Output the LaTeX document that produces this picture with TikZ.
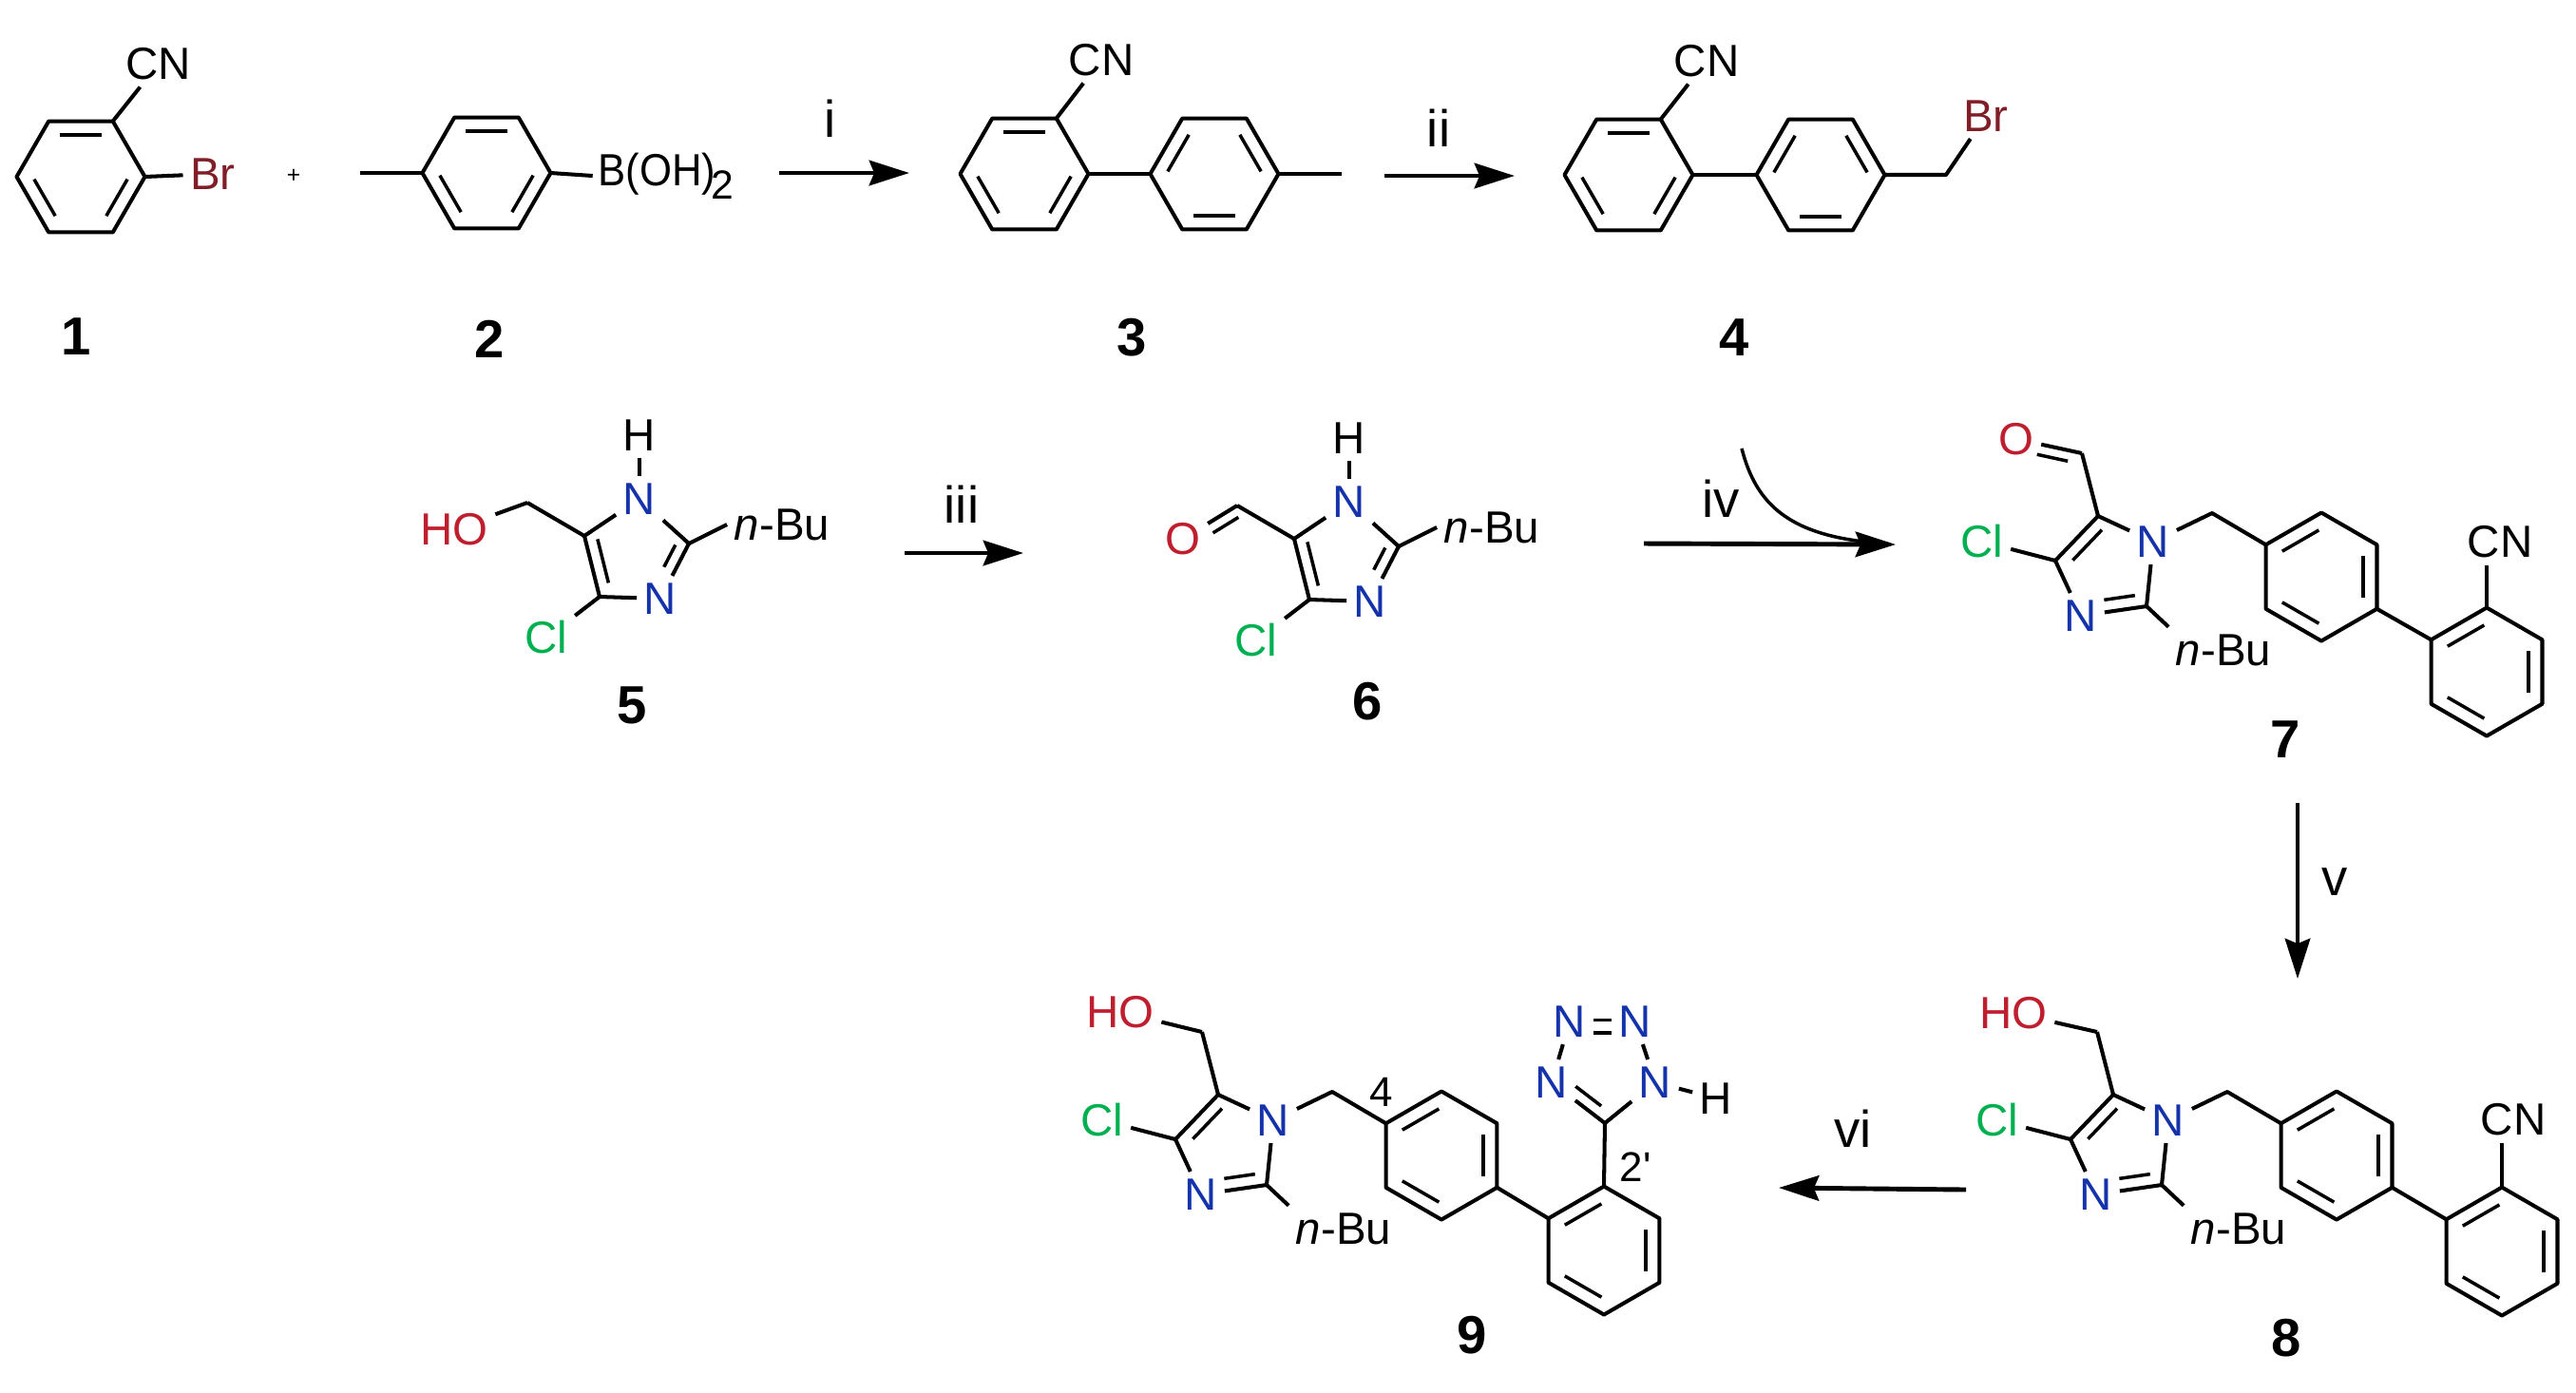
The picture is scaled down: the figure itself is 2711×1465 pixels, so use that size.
\documentclass[tikz,border=0pt]{standalone}
\usepackage{fontspec}
\setmainfont{Liberation Sans}
\newfontfamily\numfam{Liberation Sans}
\usetikzlibrary{calc}
\usetikzlibrary{arrows.meta}
\usetikzlibrary{positioning}

\definecolor{atomred}{RGB}{190,30,45}
\definecolor{atomblue}{RGB}{20,50,170}
\definecolor{atomgreen}{RGB}{0,176,80}
\definecolor{atombrown}{RGB}{128,30,40}

\newcommand{\atomfont}{\fontsize{13.5}{15}\selectfont}
\newcommand{\ringr}{67.5}

\tikzset{
	bond/.style={line width=1.15pt,line join=round},
	innerbond/.style={line width=1pt},
	rxn/.style={line width=1.4pt,-{Stealth[length=12pt,width=7.5pt,inset=1.5pt]}},
	atom/.style={inner sep=2pt,font=\atomfont},
	atomn/.style={atom,text=atomblue},
	atomo/.style={atom,text=atomred},
	atomcl/.style={atom,text=atomgreen},
	atombr/.style={atom,text=atombrown},
	reagent/.style={inner sep=0pt,font=\fontsize{15.5}{17}\selectfont},
	cmpd/.style={inner sep=0pt,font=\fontsize{16}{18}\selectfont\bfseries},
	locant/.style={inner sep=0pt,font=\numfam\fontsize{12.5}{14}\selectfont},
}

% ring: name, centre x, centre y, first angle, double bonds
\newcommand{\benzring}[5]{
	\coordinate (#1) at (#2,#3);
	\foreach \k in {1,...,6} {
		\coordinate (#1\k) at ({#2+\ringr*cos(#4+60*(\k-1))},{#3-\ringr*sin(#4+60*(\k-1))});
	}
	\draw[bond] (#11) -- (#12) -- (#13) -- (#14) -- (#15) -- (#16) -- cycle;
	\foreach \b in {#5} {
		\pgfmathtruncatemacro{\nxt}{mod(\b,6)+1}
		\coordinate (p) at ($(#1)!0.75!(#1\b)$);
		\coordinate (q) at ($(#1)!0.75!(#1\nxt)$);
		\draw[innerbond] ($(p)!0.06!(q)$) -- ($(q)!0.06!(p)$);
	}
}

% second line of a double bond: from, to, offset, start, end
\newcommand{\dbl}[5]{
	\draw[innerbond] ($(#1)!#4!(#2)!#3!90:(#2)$) -- ($(#1)!#5!(#2)!#3!90:(#2)$);
}

% NH imidazole of 5 and 6
\newcommand{\nhimid}[1]{
	\node[atomn] (#1n1) at (1420,528) {N};
	\node[atomn] (#1n3) at (1442,633) {N};
	\node[atom] (#1h) at (1420,461) {H};
	\node[atomcl] (#1cl) at (1322,674) {Cl};
	\node[atom] (#1bu) at (1570,555) {\textit{n}-Bu};
	\coordinate (#1c5) at (1362,567);
	\coordinate (#1c4) at (1378,631);
	\coordinate (#1c2) at (1472,575);
	\coordinate (#1c6) at (1302,532);
	\draw[bond] (#1n3) -- (#1c4) -- (#1c5) -- (#1n1) -- (#1c2) -- (#1n3);
	\dbl{#1c5}{#1c4}{3.6pt}{0.1}{0.82}
	\dbl{#1c2}{#1n3}{-3.4pt}{0.12}{0.52}
	\draw[bond] (#1n1) -- (#1h);
	\draw[bond] (#1c4) -- (#1cl);
	\draw[bond] (#1c2) -- (#1bu.west);
	\draw[bond] (#1c5) -- (#1c6);
}

% imidazole, CH2 and first ring of 7, 8 and 9
\newcommand{\sartan}[1]{
	\node[atomn] (#1n1) at (2266,570) {N};
	\node[atomn] (#1n3) at (2190,648) {N};
	\node[atomcl] (#1cl) at (2086,570) {Cl};
	\node[atom] (#1bu) at (2340,684) {\textit{n}-Bu};
	\coordinate (#1c5) at (2208,543);
	\coordinate (#1c4) at (2163,590);
	\coordinate (#1c2) at (2259,638);
	\coordinate (#1c6) at (2191,477);
	\coordinate (#1ch) at (2328,540);
	\draw[bond] (#1n3) -- (#1c4) -- (#1c5) -- (#1n1) -- (#1c2) -- (#1n3);
	\dbl{#1c5}{#1c4}{3.7pt}{0.12}{0.8}
	\dbl{#1c2}{#1n3}{-3.7pt}{0.15}{0.62}
	\draw[bond] (#1c4) -- (#1cl);
	\draw[bond] (#1c2) -- (#1bu.north west);
	\draw[bond] (#1c5) -- (#1c6);
	\benzring{#1ra}{2443}{607}{30}{2,4,6}
	\draw[bond] (#1n1) -- (#1ch) -- (#1ra3);
}

\begin{document}
\begin{tikzpicture}[x=0.01cm,y=-0.01cm]
	\useasboundingbox (0,0) rectangle (2711,1465);

	% 1
	\benzring{ra}{85}{186}{0}{2,4,6}
	\node[atom] (acn) at (167,67) {CN};
	\node[atombr] (abr) at (224,183) {Br};
	\draw[bond] (ra2) -- (acn);
	\draw[bond] (ra1) -- (abr);
	\node[cmpd] (one) at (80,354) {1};
	\node[font=\fontsize{7}{8}\selectfont,inner sep=0pt] (plus) at (309,185) {+};

	% 2
	\benzring{rb}{512}{182}{0}{2,4,6}
	\coordinate (bme) at (379,182);
	\node[atom,anchor=west,inner sep=0pt] (boh) at (629,185) {\scalebox{0.92}[1]{B(OH)}\kern-1.5pt\raisebox{-0.3em}{\scalebox{0.9}{2}}};
	\draw[bond] (bme) -- (rb4);
	\draw[bond] (rb1) -- ([xshift=-1.5pt]boh.west);
	\node[cmpd] (two) at (515,357) {2};

	\coordinate (s1) at (820,182);
	\coordinate (t1) at (957,182);
	\draw[rxn] (s1) -- (t1);
	\node[reagent] (ri) at (874,125) {i};

	% 3
	\benzring{rc}{1078}{183}{0}{2,4,6}
	\benzring{rd}{1278}{183}{0}{1,3,5}
	\node[atom] (ccn) at (1159,63) {CN};
	\coordinate (cme) at (1412,183);
	\draw[bond] (rc2) -- (ccn);
	\draw[bond] (rc1) -- (rd4);
	\draw[bond] (rd1) -- (cme);
	\node[cmpd] (three) at (1191,355) {3};

	\coordinate (s2) at (1457,185);
	\coordinate (t2) at (1594,185);
	\draw[rxn] (s2) -- (t2);
	\node[reagent] (rii) at (1514,135) {ii};

	% 4
	\benzring{re}{1714}{184}{0}{2,4,6}
	\benzring{rf}{1916}{184}{0}{1,3,5}
	\node[atom] (dcn) at (1796,64) {CN};
	\node[atombr] (dbr) at (2090,122) {Br};
	\coordinate (dch) at (2048,184);
	\draw[bond] (re2) -- (dcn);
	\draw[bond] (re1) -- (rf4);
	\draw[bond] (rf1) -- (dch) -- (dbr);
	\node[cmpd] (four) at (1825,355) {4};

	% 5
	\begin{scope}[shift={(-747,-3)}]
		\nhimid{e}
		\node[atomo] (eho) at (1225,560) {HO};
		\draw[bond] (ec6) -- (eho);
	\end{scope}
	\node[cmpd] (five) at (665,742) {5};

	\coordinate (s3) at (952,582);
	\coordinate (t3) at (1077,582);
	\draw[rxn] (s3) -- (t3);
	\node[reagent] (riii) at (1012,531) {iii};

	% 6
	\nhimid{f}
	\node[atomo] (fo) at (1245,567) {O};
	\draw[bond] (fc6) -- (fo);
	\dbl{fc6}{fo}{3.2pt}{0.08}{0.55}
	\node[cmpd] (six) at (1439,738) {6};

	\coordinate (s4) at (1730,572);
	\coordinate (t4) at (1995,573);
	\coordinate (v4) at (1833,472);
	\coordinate (w4) at (1985,572);
	\draw[rxn] (s4) -- (t4);
	\draw[innerbond] (v4) .. controls (1848,530) and (1882,566) .. (w4);
	\node[reagent] (riv) at (1811,525) {iv};

	% 7
	\sartan{g}
	\benzring{grb}{2617}{707}{30}{2,4,6}
	\node[atom] (gcn) at (2631,570) {CN};
	\node[atomo] (go) at (2122,462) {O};
	\draw[bond] (gra6) -- (grb3);
	\draw[bond] (grb2) -- (grb2 |- gcn.south);
	\draw[bond] (gc6) -- (go);
	\dbl{gc6}{go}{3.2pt}{0.18}{0.65}
	\node[cmpd] (seven) at (2405,778) {7};

	\coordinate (s5) at (2418,845);
	\coordinate (t5) at (2418,1030);
	\draw[rxn] (s5) -- (t5);
	\node[reagent] (rv) at (2457,928) {v};

	% 8
	\begin{scope}[shift={(16,609)}]
		\sartan{h}
		\benzring{hrb}{2617}{708}{30}{2,4,6}
		\node[atom] (hcn) at (2629,569) {CN};
		\node[atomo] (hho) at (2103,457) {HO};
		\draw[bond] (hra6) -- (hrb3);
		\draw[bond] (hrb2) -- (hrb2 |- hcn.south);
		\draw[bond] (hc6) -- (hho);
	\end{scope}
	\node[cmpd] (eight) at (2406,1408) {8};

	\coordinate (s6) at (2069,1252);
	\coordinate (t6) at (1872,1250);
	\draw[rxn] (s6) -- (t6);
	\node[reagent] (rvi) at (1950,1188) {vi};

	% 9
	\begin{scope}[shift={(-926,609)}]
		\sartan{k}
		\benzring{krb}{2614}{707}{30}{2,4,6}
		\node[atomo] (kho) at (2105,456) {HO};
		\draw[bond] (kra6) -- (krb3);
		\draw[bond] (kc6) -- (kho);
	\end{scope}
	\coordinate (tc) at (1689,1182);
	\node[atomn] (tn1) at (1742,1139) {N};
	\node[atomn] (tn2) at (1721,1075) {N};
	\node[atomn] (tn3) at (1652,1075) {N};
	\node[atomn] (tn4) at (1633,1139) {N};
	\node[atom] (th) at (1806,1156) {H};
	\draw[bond] (tn4) -- (tc) -- (tn1) -- (tn2);
	\draw[bond] (tn3) -- (tn4);
	\dbl{tc}{tn4}{-3.4pt}{0.2}{0.68}
	\draw[innerbond] ([yshift=0.4pt]tn3.east) -- ([yshift=0.4pt]tn2.west);
	\draw[innerbond] ([yshift=-3.4pt]tn3.east) -- ([yshift=-3.4pt]tn2.west);
	\draw[bond] (tn1) -- (th);
	\draw[bond] (tc) -- (krb2);
	\node[locant] (lfour) at (1454,1149) {4};
	\node[locant] (ltwo) at (1721,1228) {2'};
	\node[cmpd] (nine) at (1549,1405) {9};
\end{tikzpicture}
\end{document}
